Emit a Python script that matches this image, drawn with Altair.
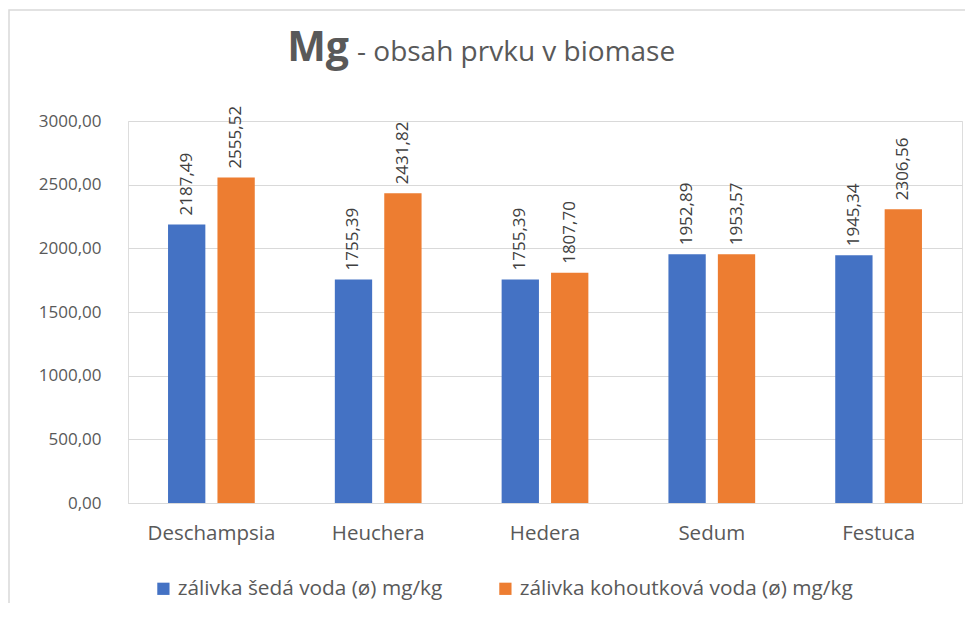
import altair as alt
import pandas as pd

categories = ["Deschampsia", "Heuchera", "Hedera", "Sedum", "Festuca"]
series_names = ["zálivka šedá voda (ø) mg/kg", "zálivka kohoutková voda (ø) mg/kg"]
grey_water = [2187.49, 1755.39, 1755.39, 1952.89, 1945.34]
tap_water = [2555.52, 2431.82, 1807.70, 1953.57, 2306.56]
colors = ["#4472C4", "#ED7D31"]
y_ticks = [0, 500, 1000, 1500, 2000, 2500, 3000]

rows = []
for i, c in enumerate(categories):
    rows.append({"cat": c, "series": series_names[0], "value": grey_water[i]})
    rows.append({"cat": c, "series": series_names[1], "value": tap_water[i]})
df = pd.DataFrame(rows)

FONT = "Open Sans"
GREY = "#595959"

x_enc = alt.X("cat:N", sort=categories, title=None,
              scale=alt.Scale(paddingInner=0.48, paddingOuter=0.24),
              axis=alt.Axis(labelAngle=0, ticks=False, domainColor="#D9D9D9",
                            labelFontSize=20.5, labelColor=GREY, labelFont=FONT,
                            labelPadding=20))
xoff = alt.XOffset("series:N", sort=series_names,
                   scale=alt.Scale(paddingInner=0.245, paddingOuter=0))
y_enc = alt.Y("value:Q", title=None,
              scale=alt.Scale(domain=[0, 3000], nice=False),
              axis=alt.Axis(values=y_ticks, domain=False, ticks=False,
                            gridColor="#D9D9D9", labelFontSize=17, labelColor=GREY,
                            labelFont=FONT, labelPadding=27,
                            labelExpr="replace(format(datum.value, '.2f'), '.', ',')"))
color_enc = alt.Color("series:N", sort=series_names,
                      scale=alt.Scale(domain=series_names, range=colors),
                      legend=alt.Legend(title=None, orient="none", direction="horizontal",
                                        legendX=25, legendY=457, symbolType="square",
                                        symbolSize=150, symbolStrokeWidth=0,
                                        labelFontSize=20.8, labelColor=GREY, labelFont=FONT,
                                        labelLimit=600, columnPadding=52, labelOffset=4))

base = alt.Chart(df)
bars = base.mark_bar().encode(x=x_enc, xOffset=xoff, y=y_enc, color=color_enc)
labels = base.transform_calculate(
    label="replace(format(datum.value, '.2f'), '.', ',')"
).mark_text(angle=270, align="left", baseline="middle", dx=9, fontSize=17,
            font=FONT, color="#404040").encode(
    x=alt.X("cat:N", sort=categories), xOffset=xoff, y="value:Q", text="label:N")

border = alt.Chart(pd.DataFrame({"a": [0]})).mark_rect(
    fill=None, stroke="#D9D9D9", strokeWidth=1.5).encode(
    x=alt.value(-119), x2=alt.value(900), y=alt.value(-111), y2=alt.value(600))

title_mg = alt.Chart(pd.DataFrame({"a": [0]})).mark_text(
    text="Mg", fontSize=41, fontWeight="bold", font=FONT, color=GREY,
    align="right", baseline="alphabetic").encode(x=alt.value(221), y=alt.value(-60))
title_rest = alt.Chart(pd.DataFrame({"a": [0]})).mark_text(
    text="- obsah prvku v biomase", fontSize=28, font=FONT, color=GREY,
    align="left", baseline="alphabetic").encode(x=alt.value(229), y=alt.value(-60))

chart = alt.layer(border, bars, labels, title_mg, title_rest).properties(
    width=834, height=382,
    autosize=alt.AutoSizeParams(type="none"),
    padding={"left": 120, "top": 113, "right": 3, "bottom": 100},
).configure_view(stroke=None).configure(background="white")

chart.save("out.html", embed_options={"renderer": "svg", "actions": False})
